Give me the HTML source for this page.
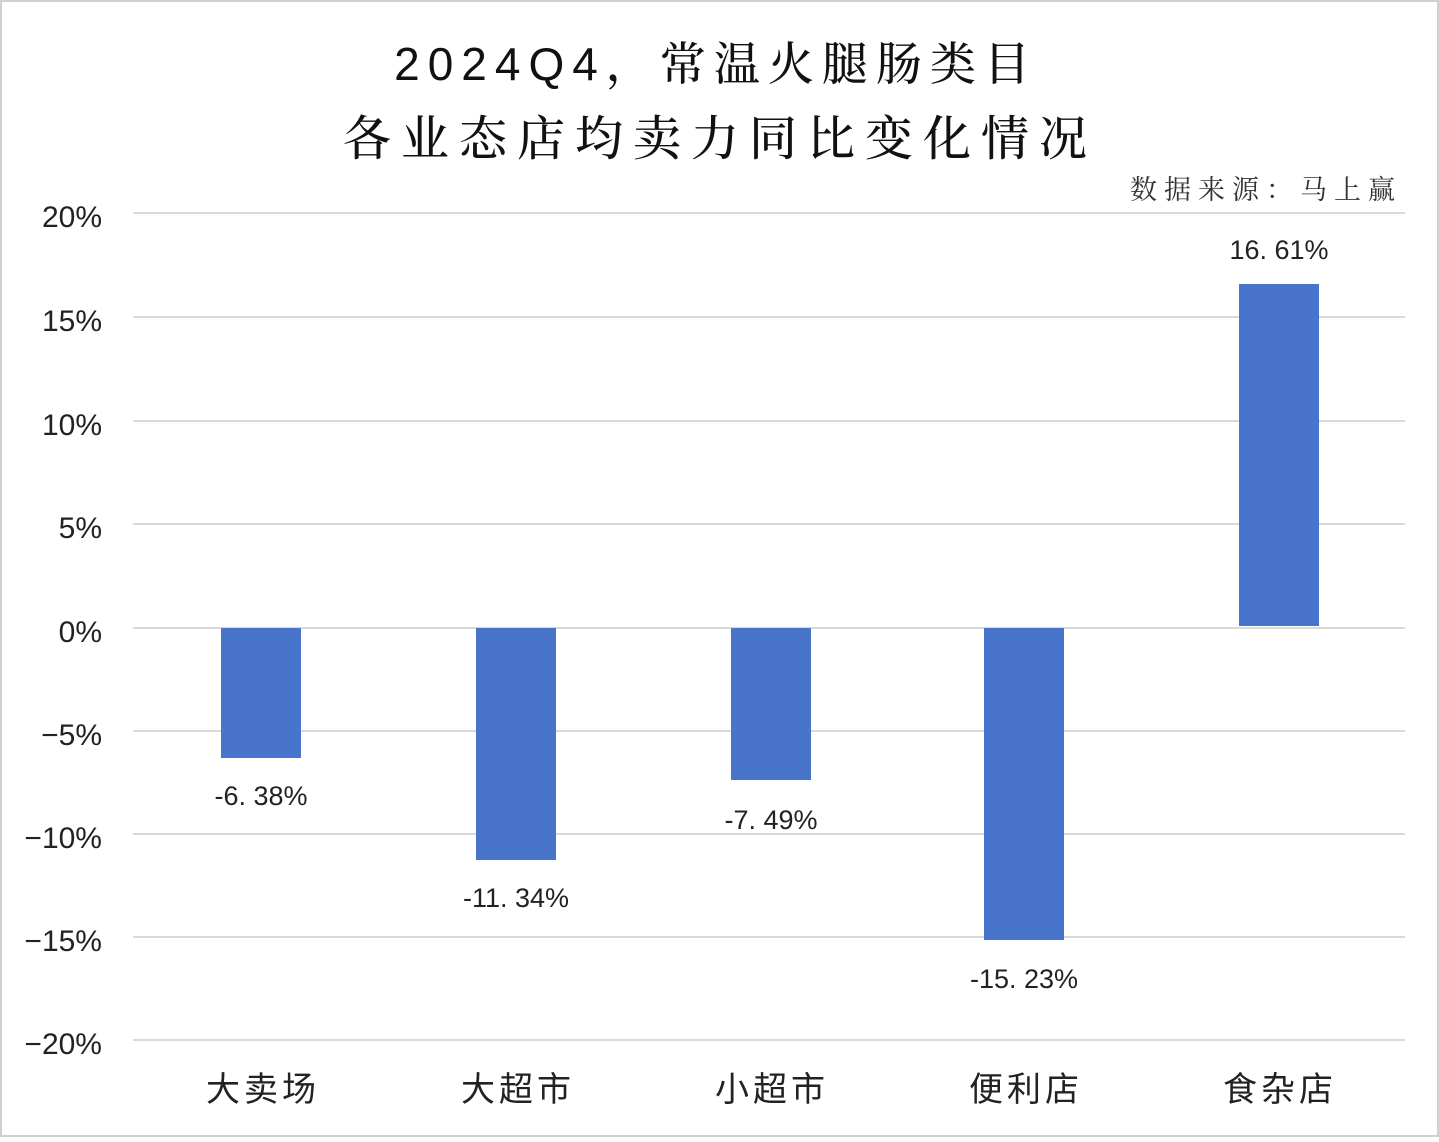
<!DOCTYPE html>
<html><head><meta charset="utf-8"><style>
body{margin:0;background:#fff;}
svg text{font-family:"Liberation Sans","Noto Sans CJK SC",sans-serif;}
</style></head><body>
<svg width="1439" height="1137" xmlns="http://www.w3.org/2000/svg">
<rect x="1" y="1" width="1437" height="1135" fill="#fff" stroke="#d0d0d0" stroke-width="2"/>
<text x="716" y="80" text-anchor="middle" font-size="46" fill="#111" font-weight="500" style="font-family:'Liberation Sans','Noto Serif CJK SC',serif;letter-spacing:8px">2024Q4，常温火腿肠类目</text>
<text x="720" y="155" text-anchor="middle" font-size="48" fill="#111" font-weight="500" style="font-family:'Noto Serif CJK SC',serif;letter-spacing:10px">各业态店均卖力同比变化情况</text>
<text x="1402" y="199" text-anchor="end" font-size="27" fill="#333" style="font-family:'Noto Serif CJK SC',serif;letter-spacing:7px">数据来源：马上赢</text>
<g stroke="#d9d9d9" stroke-width="2">
<line x1="133" x2="1405" y1="213" y2="213"/><line x1="133" x2="1405" y1="317" y2="317"/>
<line x1="133" x2="1405" y1="421" y2="421"/><line x1="133" x2="1405" y1="524" y2="524"/>
<line x1="133" x2="1405" y1="628" y2="628"/><line x1="133" x2="1405" y1="731" y2="731"/>
<line x1="133" x2="1405" y1="834" y2="834"/><line x1="133" x2="1405" y1="937" y2="937"/>
<line x1="133" x2="1405" y1="1040" y2="1040"/>
</g>
<g font-size="30" fill="#222" text-anchor="end">
<text x="102" y="227">20%</text><text x="102" y="331">15%</text><text x="102" y="435">10%</text>
<text x="102" y="538">5%</text><text x="102" y="642">0%</text><text x="102" y="745">−5%</text>
<text x="102" y="848">−10%</text><text x="102" y="951">−15%</text><text x="102" y="1054">−20%</text>
</g>
<g fill="#4874cb">
<rect x="221" y="628" width="80" height="130"/>
<rect x="476" y="628" width="80" height="232"/>
<rect x="731" y="628" width="80" height="152"/>
<rect x="984" y="628" width="80" height="312"/>
<rect x="1239" y="284" width="80" height="342"/>
</g>
<g font-size="27" fill="#222" text-anchor="middle">
<text x="261" y="805">-6. 38%</text>
<text x="516" y="907">-11. 34%</text>
<text x="771" y="829">-7. 49%</text>
<text x="1024" y="988">-15. 23%</text>
<text x="1279" y="259">16. 61%</text>
</g>
<g font-size="34" fill="#222" text-anchor="middle" style="font-family:'Noto Serif CJK SC',serif;letter-spacing:4px">
<text x="263" y="1101">大卖场</text><text x="518" y="1101">大超市</text><text x="772" y="1101">小超市</text>
<text x="1026" y="1101">便利店</text><text x="1280" y="1101">食杂店</text>
</g>
</svg>
</body></html>
